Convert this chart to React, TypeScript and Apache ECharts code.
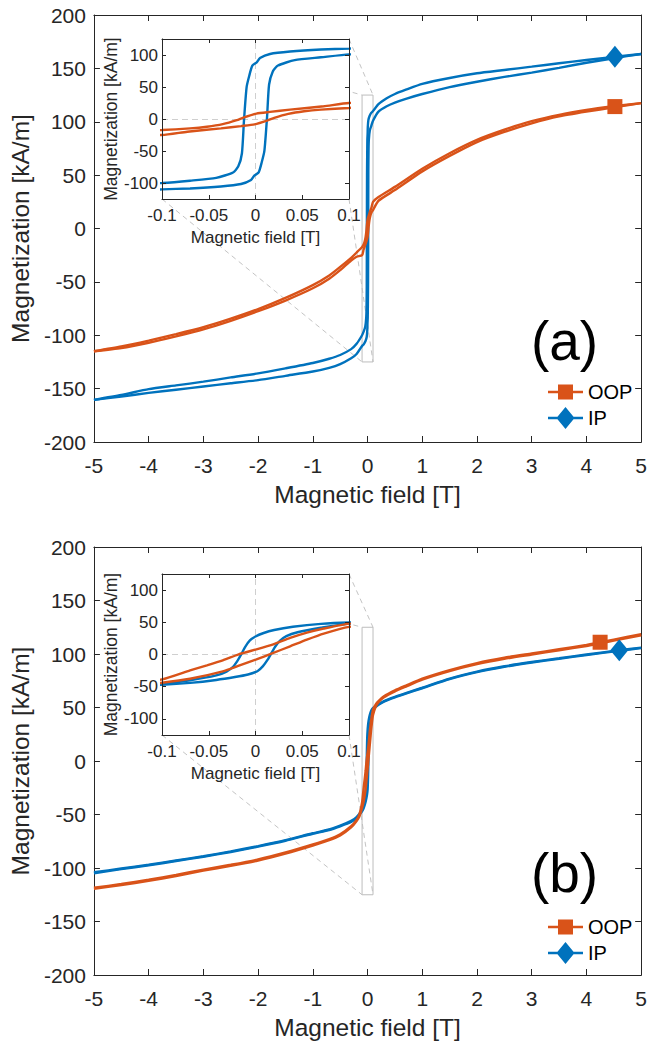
import React, { useEffect, useRef } from "react";
import * as echarts from "echarts";

type Pt = [number, number];

const FONT = '"Liberation Sans", Arial, Helvetica, sans-serif';
const INK = "#262626";
const OOP_COLOR = "#D95319";
const IP_COLOR = "#0072BD";
const GUIDE = "#c4c4c4";

// axis ranges / ticks
const MAIN_X: [number, number] = [-5, 5];
const MAIN_X_STEP = 1;
const MAIN_Y: [number, number] = [-200, 200];
const MAIN_Y_STEP = 50;
const ZOOM_X: [number, number] = [-0.1, 0.1];
const ZOOM_X_STEP = 0.05;
const ZOOM_Y: [number, number] = [-125, 125];
const ZOOM_Y_TICKS = [-100, -50, 0, 50, 100];
const X_TITLE = "Magnetic field [T]";
const Y_TITLE = "Magnetization [kA/m]";
const SERIES_NAMES = ["OOP", "IP"];
const PANEL_LABELS = ["(a)", "(b)"];

// ---- panel (a) ----
const A_IP_DESC: Pt[] = [
  [-5, -160.5], [-4.5, -156], [-4, -150.5], [-3.5, -147], [-3, -143.5], [-2.5, -139.5], [-2, -135.7],
  [-1.5, -131], [-1, -126], [-0.7, -122], [-0.5, -118.5], [-0.3, -113], [-0.2, -108], [-0.1, -100],
  [-0.07, -96.4], [-0.042, -92], [-0.024, -83.5], [-0.0184, -74], [-0.0145, -53.5], [-0.0123, -1.8],
  [-0.0095, 49.9], [-0.0066, 68], [-0.0034, 83.4], [0.0013, 88.6], [0.0048, 95.3], [0.0155, 101.6],
  [0.037, 105.4], [0.07, 108.5], [0.1, 110], [0.2, 116.5], [0.35, 122], [0.5, 126], [0.7, 130],
  [1, 135.5], [1.5, 141], [2, 145.4], [2.5, 148.5], [3, 151.6], [3.5, 154.8], [4, 157.8], [4.5, 160.8], [5, 163.5],
];
const A_IP_ASC: Pt[] = [
  [-5, -160.5], [-4.5, -157.5], [-4, -154], [-3.5, -151], [-3, -148], [-2.5, -145], [-2, -142],
  [-1.5, -138], [-1, -134], [-0.7, -130.5], [-0.5, -127], [-0.3, -121.5], [-0.2, -117.5], [-0.1, -110],
  [-0.07, -108.5], [-0.037, -105.4], [-0.0155, -101.6], [-0.0048, -95.3], [-0.0013, -88.6], [0.0034, -83.4],
  [0.0066, -68], [0.0095, -49.9], [0.0123, 1.8], [0.0145, 53.5], [0.0184, 74], [0.024, 83.5], [0.042, 92],
  [0.07, 96.4], [0.1, 101], [0.2, 109.5], [0.35, 114.5], [0.5, 118], [0.7, 121.5], [1, 126], [1.5, 132.5],
  [2, 137.5], [2.5, 142], [3, 146], [3.5, 150.5], [4, 155.3], [4.5, 159.5], [5, 163.5],
];
const A_OOP_DESC: Pt[] = [
  [-5, -115], [-4.5, -110.5], [-4, -105], [-3.5, -99], [-3, -92.5], [-2.5, -84.5], [-2, -75.5],
  [-1.5, -65], [-1, -53], [-0.7, -44], [-0.5, -36], [-0.3, -27.5], [-0.2, -22.5], [-0.1, -17.3],
  [-0.07, -14.7], [-0.052, -12.1], [-0.035, -8], [-0.02, -1.8], [-0.013, 2.3], [0.001, 8.5],
  [0.0155, 11.1], [0.037, 14.7], [0.073, 19.9], [0.1, 25], [0.2, 29.5], [0.5, 39], [1, 56],
  [1.5, 70.5], [2, 83], [2.5, 92.5], [3, 100.5], [3.5, 106.5], [4, 111], [4.5, 114.5], [5, 117.5],
];
const A_OOP_ASC: Pt[] = [
  [-5, -115], [-4.5, -112], [-4, -107], [-3.5, -101], [-3, -94.5], [-2.5, -86.5], [-2, -77.5],
  [-1.5, -67.5], [-1, -56], [-0.7, -47], [-0.5, -39], [-0.3, -30], [-0.2, -26.5], [-0.1, -25],
  [-0.073, -19.9], [-0.037, -14.7], [-0.0155, -11.1], [-0.001, -8.5], [0.013, -2.3], [0.02, 1.8],
  [0.035, 8], [0.052, 12.1], [0.07, 14.7], [0.1, 17.3], [0.2, 26], [0.5, 36], [1, 53.5], [1.5, 68],
  [2, 81], [2.5, 90.5], [3, 98.5], [3.5, 105], [4, 109.5], [4.5, 113.5], [5, 117.5],
];
const A_OOP_MARK: Pt[] = [[4.52, 114.2]];
const A_IP_MARK: Pt[] = [[4.52, 160.8]];

// ---- panel (b) ----
const B_IP_DESC: Pt[] = [
  [-5, -104], [-4.5, -100.5], [-4, -97], [-3.5, -93], [-3, -89], [-2.5, -84.5], [-2, -79.5],
  [-1.5, -74], [-1, -67.5], [-0.7, -64], [-0.5, -60.5], [-0.3, -56], [-0.2, -52.5], [-0.1, -45.5],
  [-0.07, -40], [-0.042, -32.5], [-0.031, -26.5], [-0.024, -19], [-0.019, -9], [-0.015, 1],
  [-0.011, 12], [-0.006, 22], [0, 28], [0.008, 33], [0.02, 38], [0.04, 43], [0.07, 47.5], [0.1, 49.6],
  [0.2, 53], [0.3, 56], [0.5, 60], [0.7, 63.5], [1, 68.5], [1.5, 77], [2, 83.5], [2.5, 88.5],
  [3, 92.5], [3.5, 96], [4, 99.5], [4.6, 103.5], [5, 106],
];
const B_IP_ASC: Pt[] = [
  [-5, -105], [-4.5, -101], [-4, -97.5], [-3.5, -93.5], [-3, -89.5], [-2.5, -85], [-2, -80],
  [-1.5, -74.5], [-1, -68], [-0.7, -64.5], [-0.5, -61], [-0.3, -57], [-0.2, -53.5], [-0.1, -47],
  [-0.07, -44], [-0.042, -39.5], [-0.022, -35], [-0.008, -31], [0.002, -26], [0.008, -18],
  [0.013, -8], [0.017, 2], [0.021, 12], [0.026, 21], [0.033, 28.5], [0.045, 34.5], [0.07, 41.5],
  [0.1, 48], [0.2, 52.5], [0.3, 55.5], [0.5, 59.5], [0.7, 63], [1, 68], [1.5, 76.5], [2, 83],
  [2.5, 88], [3, 92], [3.5, 95.5], [4, 99], [4.6, 103], [5, 105.5],
];
const B_OOP_DESC: Pt[] = [
  [-5, -118.5], [-4.5, -115], [-4, -111], [-3.5, -106.5], [-3, -101.5], [-2.5, -97], [-2, -92],
  [-1.5, -85.5], [-1, -78], [-0.7, -73], [-0.5, -68.5], [-0.3, -61], [-0.2, -55], [-0.15, -50],
  [-0.1, -38.7], [-0.07, -24.7], [-0.052, -16.9], [-0.035, -9.1], [-0.018, 0.3], [0.001, 8],
  [0.019, 15.8], [0.037, 25.7], [0.055, 34], [0.073, 40.3], [0.1, 48], [0.15, 53], [0.2, 56],
  [0.3, 60.5], [0.5, 66], [0.7, 70.5], [1, 77], [1.5, 85], [2, 91.5], [2.5, 96.5], [3, 100.5],
  [3.5, 104.5], [4, 108.5], [4.25, 111], [4.5, 113.5], [5, 118.5],
];
const B_OOP_ASC: Pt[] = [
  [-5, -119.5], [-4.5, -116], [-4, -112], [-3.5, -107.5], [-3, -102.5], [-2.5, -98], [-2, -93],
  [-1.5, -86.5], [-1, -79], [-0.7, -74], [-0.5, -69.5], [-0.3, -62], [-0.2, -56], [-0.15, -52],
  [-0.1, -43.9], [-0.07, -37.7], [-0.035, -26.2], [-0.017, -16.9], [0.001, -7.5], [0.017, 1.3],
  [0.037, 12.7], [0.055, 23.1], [0.073, 32.5], [0.1, 42.9], [0.15, 51], [0.2, 55], [0.3, 59.5],
  [0.5, 65], [0.7, 69.5], [1, 76], [1.5, 84], [2, 90.5], [2.5, 95.5], [3, 99.5], [3.5, 103.5],
  [4, 107.5], [4.25, 110], [4.5, 112.5], [5, 117.5],
];
const B_OOP_MARK: Pt[] = [[4.25, 111]];
const B_IP_MARK: Pt[] = [[4.6, 103.5]];

// legend icons: line with marker
const OOP_ICON = "path://M0,0M35,22M0,9.8H10V3.5H25V9.8H35V12.2H25V18.5H10V12.2H0Z";
const IP_ICON = "path://M0,9.8H9.48L17.5,0L25.52,9.8H35V12.2H25.52L17.5,22L9.48,12.2H0Z";

const tickStyle = { color: INK, width: 1 };

function mainAxes(grid: number) {
  const common = {
    type: "value" as const,
    gridIndex: grid,
    splitLine: { show: false },
    axisLine: { show: true, onZero: false, lineStyle: tickStyle },
    axisTick: { show: true, inside: true, length: 6, lineStyle: tickStyle },
    z: 1,
  };
  const xBottom = {
    ...common,
    position: "bottom",
    min: MAIN_X[0], max: MAIN_X[1], interval: MAIN_X_STEP,
    axisLabel: { color: INK, fontFamily: FONT, fontSize: 21, margin: 13 },
    name: X_TITLE, nameLocation: "middle", nameGap: 40,
    nameTextStyle: { color: INK, fontFamily: FONT, fontSize: 24.5 },
  };
  const xTop = {
    ...common, position: "top",
    min: MAIN_X[0], max: MAIN_X[1], interval: MAIN_X_STEP,
    axisLabel: { show: false },
  };
  const yLeft = {
    ...common, position: "left",
    min: MAIN_Y[0], max: MAIN_Y[1], interval: MAIN_Y_STEP,
    axisLabel: { color: INK, fontFamily: FONT, fontSize: 21, margin: 8 },
    name: Y_TITLE, nameLocation: "middle", nameGap: 56,
    nameTextStyle: { color: INK, fontFamily: FONT, fontSize: 24.5 },
  };
  const yRight = {
    ...common, position: "right",
    min: MAIN_Y[0], max: MAIN_Y[1], interval: MAIN_Y_STEP,
    axisLabel: { show: false },
  };
  return { x: [xBottom, xTop], y: [yLeft, yRight] };
}

function insetAxes(grid: number) {
  const common = {
    type: "value" as const,
    gridIndex: grid,
    splitLine: { show: false },
    axisLine: { show: true, onZero: false, lineStyle: tickStyle },
    z: 7,
  };
  const xTick = { show: true, inside: true, length: 4, lineStyle: tickStyle };
  const yTick = { ...xTick, customValues: ZOOM_Y_TICKS };
  const xBottom = {
    ...common, position: "bottom",
    min: ZOOM_X[0], max: ZOOM_X[1], interval: ZOOM_X_STEP,
    axisTick: xTick,
    axisLabel: { color: INK, fontFamily: FONT, fontSize: 17, margin: 8 },
    name: X_TITLE, nameLocation: "middle", nameGap: 30,
    nameTextStyle: { color: INK, fontFamily: FONT, fontSize: 17 },
  };
  const xTop = {
    ...common, position: "top",
    min: ZOOM_X[0], max: ZOOM_X[1], interval: ZOOM_X_STEP,
    axisTick: xTick, axisLabel: { show: false },
  };
  const yLeft = {
    ...common, position: "left",
    min: ZOOM_Y[0], max: ZOOM_Y[1],
    axisTick: yTick,
    axisLabel: { color: INK, fontFamily: FONT, fontSize: 17, margin: 4, customValues: ZOOM_Y_TICKS },
    name: Y_TITLE, nameLocation: "middle", nameGap: 39,
    nameTextStyle: { color: INK, fontFamily: FONT, fontSize: 17.5 },
  };
  const yRight = {
    ...common, position: "right",
    min: ZOOM_Y[0], max: ZOOM_Y[1],
    axisTick: yTick, axisLabel: { show: false, customValues: ZOOM_Y_TICKS },
  };
  return { x: [xBottom, xTop], y: [yLeft, yRight] };
}

function curve(name: string, data: Pt[], color: string, axis: number, z: number) {
  return {
    type: "line", name, data, xAxisIndex: axis, yAxisIndex: axis,
    symbol: "none", showSymbol: false, clip: true, silent: true, z,
    smooth: 0.2,
    lineStyle: { color, width: 2.4 }, itemStyle: { color },
  };
}

function panelSeries(
  tag: string, mainAxis: number, insetAxis: number,
  ipDesc: Pt[], ipAsc: Pt[], oopDesc: Pt[], oopAsc: Pt[], oopMark: Pt[], ipMark: Pt[],
) {
  const first: any = curve(`IP ${tag} descending`, ipDesc, IP_COLOR, mainAxis, 2);
  first.markArea = {
    silent: true, z: 2, label: { show: false },
    itemStyle: { color: "rgba(0,0,0,0)", borderColor: "#bdbdbd", borderWidth: 1 },
    data: [[{ xAxis: ZOOM_X[0], yAxis: ZOOM_Y[1] }, { xAxis: ZOOM_X[1], yAxis: ZOOM_Y[0] }]],
  };
  const insetFirst: any = curve(`IP ${tag} descending zoom`, ipDesc, IP_COLOR, insetAxis, 6);
  insetFirst.markLine = {
    silent: true, z: 5, symbol: ["none", "none"], label: { show: false },
    lineStyle: { color: "#cfcfcf", type: [6, 4], width: 1 },
    data: [{ xAxis: 0 }, { yAxis: 0 }],
  };
  return [
    first,
    curve(`IP ${tag} ascending`, ipAsc, IP_COLOR, mainAxis, 2),
    curve(`OOP ${tag} descending`, oopDesc, OOP_COLOR, mainAxis, 2),
    curve(`OOP ${tag} ascending`, oopAsc, OOP_COLOR, mainAxis, 2),
    insetFirst,
    curve(`IP ${tag} ascending zoom`, ipAsc, IP_COLOR, insetAxis, 6),
    curve(`OOP ${tag} descending zoom`, oopDesc, OOP_COLOR, insetAxis, 6),
    curve(`OOP ${tag} ascending zoom`, oopAsc, OOP_COLOR, insetAxis, 6),
    {
      type: "scatter", name: SERIES_NAMES[0], data: oopMark, xAxisIndex: mainAxis, yAxisIndex: mainAxis,
      symbol: "rect", symbolSize: 15, itemStyle: { color: OOP_COLOR, opacity: 1 }, z: 3, silent: true,
    },
    {
      type: "scatter", name: SERIES_NAMES[1], data: ipMark, xAxisIndex: mainAxis, yAxisIndex: mainAxis,
      symbol: "diamond", symbolSize: [18, 22], itemStyle: { color: IP_COLOR, opacity: 1 }, z: 3, silent: true,
    },
  ];
}

function legendAt(top: number) {
  return {
    orient: "vertical", left: 548, top, padding: 0,
    itemWidth: 35, itemHeight: 22, itemGap: 4, selectedMode: false,
    textStyle: { color: "#000", fontFamily: FONT, fontSize: 20 },
    data: [
      { name: SERIES_NAMES[0], icon: OOP_ICON, itemStyle: { color: OOP_COLOR, opacity: 1 } },
      { name: SERIES_NAMES[1], icon: IP_ICON, itemStyle: { color: IP_COLOR, opacity: 1 } },
    ],
  };
}

export default function App() {
  const ref = useRef<HTMLDivElement>(null);
  useEffect(() => {
    if (!ref.current) return;
    const chart = echarts.init(ref.current, null, { renderer: "svg" });
    const mA = mainAxes(0), iA = insetAxes(1), mB = mainAxes(2), iB = insetAxes(3);
    const option: any = {
      animation: false,
      backgroundColor: "#fff",
      grid: [
        { left: 90, top: 15, width: 555, height: 427 },
        { left: 162, top: 39, width: 187, height: 160, show: true, backgroundColor: "#fff", borderWidth: 0, z: 4 },
        { left: 90, top: 547, width: 555, height: 428 },
        { left: 162, top: 574, width: 187, height: 161, show: true, backgroundColor: "#fff", borderWidth: 0, z: 4 },
      ],
      // axis index order: 0,1 main a | 2,3 inset a | 4,5 main b | 6,7 inset b
      xAxis: [...mA.x, ...iA.x, ...mB.x, ...iB.x],
      yAxis: [...mA.y, ...iA.y, ...mB.y, ...iB.y],
      legend: [legendAt(381), legendAt(916)],
      series: [
        ...panelSeries("a", 0, 2, A_IP_DESC, A_IP_ASC, A_OOP_DESC, A_OOP_ASC, A_OOP_MARK, A_IP_MARK),
        ...panelSeries("b", 4, 6, B_IP_DESC, B_IP_ASC, B_OOP_DESC, B_OOP_ASC, B_OOP_MARK, B_IP_MARK),
      ],
    };
    chart.setOption(option);

    const corners: Pt[] = [
      [ZOOM_X[0], ZOOM_Y[1]], [ZOOM_X[1], ZOOM_Y[1]],
      [ZOOM_X[0], ZOOM_Y[0]], [ZOOM_X[1], ZOOM_Y[0]],
    ];
    const connectors = (mainGrid: number, insetGrid: number) =>
      corners.map((c) => {
        const p1 = chart.convertToPixel({ gridIndex: insetGrid } as any, c) as number[];
        const p2 = chart.convertToPixel({ gridIndex: mainGrid } as any, c) as number[];
        return {
          type: "line", silent: true, z: 1,
          shape: { x1: p1[0], y1: p1[1], x2: p2[0], y2: p2[1] },
          style: { stroke: GUIDE, lineWidth: 1, lineDash: [5, 4] },
        };
      });
    const label = (text: string, mainGrid: number) => {
      const p = chart.convertToPixel({ gridIndex: mainGrid } as any, [3.6, -105]) as number[];
      return {
        type: "text", silent: true, z: 10, x: p[0], y: p[1],
        style: { text, fontFamily: FONT, fontSize: 55, fill: "#000", align: "center", verticalAlign: "middle" },
      };
    };
    chart.setOption({
      graphic: {
        elements: [
          ...connectors(0, 1), ...connectors(2, 3),
          label(PANEL_LABELS[0], 0), label(PANEL_LABELS[1], 2),
        ],
      },
    });
    return () => chart.dispose();
  }, []);
  return <div ref={ref} style={{ position: "fixed", left: 0, top: 0, width: 650, height: 1048 }} />;
}
